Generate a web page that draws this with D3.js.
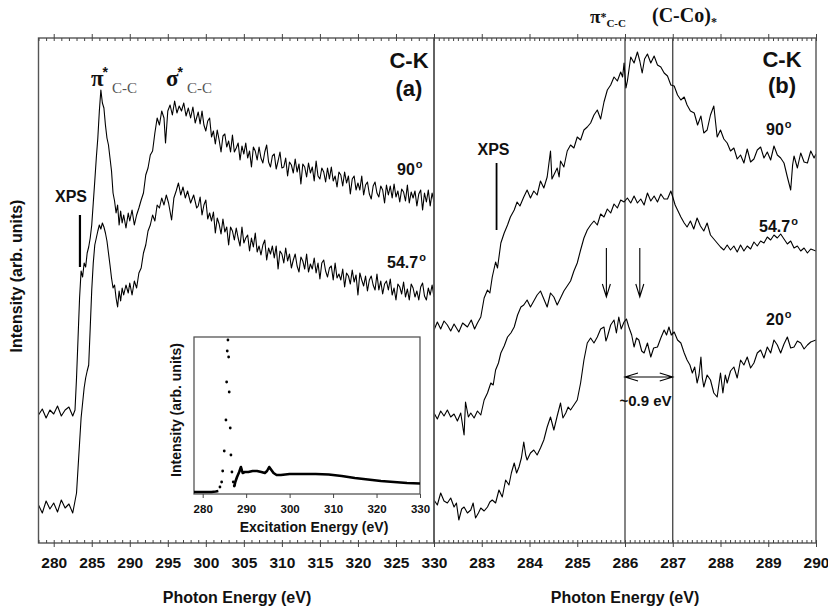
<!DOCTYPE html>
<html>
<head>
<meta charset="utf-8">
<script src="https://cdn.jsdelivr.net/npm/d3@7"></script>
<style>
  body { margin: 0; background: #fff; }
  svg { display: block; }
  text { font-family: Arial, "Liberation Sans", sans-serif; font-weight: bold; fill: #111; }
  .serif { font-family: "Times New Roman", "Liberation Serif", serif; }
</style>
</head>
<body>
<svg id="chart" width="828" height="606"></svg>
<script>
// ---- data: [photon energy (eV), intensity (arb. units)] ----
// panel (a), wide scan
const a90 = [[278.0,128],[278.5,134],[279.0,125],[279.5,133],[280.0,129],[280.5,137],[281.0,127],[281.5,133],[282.0,136],[282.5,127],[282.8,133],[283.0,165],[283.2,205],[283.4,245],[283.6,272],[283.8,266],[284.0,280],[284.2,276],[284.4,290],[284.6,296],[284.8,305],[285.0,318],[285.2,340],[285.4,362],[285.6,385],[285.8,405],[286.0,432],[286.2,453],[286.4,440],[286.6,435],[286.8,418],[287.0,405],[287.2,398],[287.4,385],[287.6,372],[287.8,350],[288.0,342],[288.2,330],[288.4,338],[288.6,318],[288.8,332],[289.0,320],[289.2,328],[289.5,315],[289.8,330],[290.0,322],[290.3,333],[290.6,318],[290.9,328],[291.2,335],[291.5,343],[291.8,350],[292.1,368],[292.4,375],[292.7,388],[293.0,392],[293.3,410],[293.6,425],[293.9,418],[294.2,432],[294.5,425],[294.7,400],[295.0,432],[295.3,438],[295.6,428],[295.9,442],[296.2,430],[296.5,437],[296.8,432],[297.1,440],[297.4,427],[297.7,435],[298.0,425],[298.3,436],[298.6,420],
  [299.0,431],[299.25,419],[299.5,432],[299.75,418],[300.0,412],[300.25,422],[300.5,425],[300.75,406],[301.0,412],[301.25,399],[301.5,413],[301.75,403],[302.0,391],[302.25,407],[302.5,409],[302.75,396],[303.0,402],[303.25,391],[303.5,408],[303.75,391],[304.0,395],[304.25,400],[304.5,383],[304.75,397],[305.0,389],[305.25,400],[305.5,385],[305.75,392],[306.0,376],[306.25,396],[306.5,392],[306.75,383],[307.0,396],[307.25,385],[307.5,380],[307.75,391],[308.0,398],[308.25,381],[308.5,376],[308.75,387],[309.0,389],[309.25,374],[309.5,382],[309.75,391],[310.0,375],[310.25,376],[310.5,385],[310.75,367],[311.0,381],[311.25,378],[311.5,370],[311.75,384],[312.0,371],[312.25,379],[312.5,359],[312.75,379],[313.0,376],[313.25,366],[313.5,380],[313.75,370],[314.0,376],[314.25,362],[314.5,382],[314.75,367],[315.0,364],[315.25,375],[315.5,371],[315.75,361],[316.0,375],[316.25,364],[316.5,376],[316.75,362],[317.0,367],[317.25,356],[317.5,371],[317.75,368],[318.0,357],[318.25,371],[318.5,360],[318.75,367],[319.0,349],[319.25,364],[319.5,367],[319.75,353],[320.0,360],[320.25,353],[320.5,367],[320.75,348],[321.0,358],[321.25,361],[321.5,349],[321.75,344],[322.0,357],[322.25,361],[322.5,350],[322.75,346],[323.0,357],[323.25,353],[323.5,340],[323.75,358],[324.0,348],[324.25,357],[324.5,345],[324.75,359],[325.0,346],[325.25,352],[325.5,341],[325.75,354],[326.0,351],[326.25,342],[326.5,358],[326.75,340],[327.0,351],[327.25,345],[327.5,352],[327.75,337],[328.0,349],[328.25,353],[328.5,333],[328.75,350],[329.0,341],[329.25,353],[329.5,337],[329.75,350],[330.0,341]];
const a547 = [[278.0,38],[278.5,30],[279.0,42],[279.5,34],[280.0,40],[280.5,31],[281.0,43],[281.5,35],[282.0,39],[282.5,30],[282.8,42],[283.0,50],[283.2,75],[283.4,100],[283.6,125],[283.8,140],[284.0,155],[284.2,165],[284.4,172],[284.6,178],[284.8,215],[285.0,253],[285.2,280],[285.4,298],[285.6,305],[285.8,312],[286.0,318],[286.2,314],[286.4,320],[286.6,316],[286.8,310],[287.0,302],[287.2,290],[287.4,278],[287.6,265],[287.8,255],[288.0,258],[288.2,245],[288.4,236],[288.6,252],[288.8,242],[289.0,255],[289.2,248],[289.5,258],[289.8,250],[290.0,260],[290.3,248],[290.6,262],[290.9,255],[291.2,270],[291.5,275],[291.8,290],[292.1,298],[292.4,312],[292.7,318],[293.0,328],[293.3,322],[293.6,338],[293.9,335],[294.2,345],[294.5,338],[294.8,348],[295.1,340],[295.5,323],[295.8,345],[296.1,352],[296.4,360],[296.7,348],[297.0,356],[297.3,345],[297.6,352],[298.0,340],[298.4,348],[298.8,335],
  [299.0,337],[299.25,346],[299.5,328],[299.75,338],[300.0,343],[300.25,324],[300.5,330],[300.75,322],[301.0,331],[301.25,310],[301.5,325],[301.75,319],[302.0,309],[302.25,324],[302.5,311],[302.75,316],[303.0,298],[303.25,316],[303.5,312],[303.75,303],[304.0,315],[304.25,305],[304.5,297],[304.75,316],[305.0,300],[305.25,305],[305.5,308],[305.75,292],[306.0,305],[306.25,296],[306.5,310],[306.75,291],[307.0,297],[307.25,288],[307.5,298],[307.75,303],[308.0,283],[308.25,295],[308.5,289],[308.75,297],[309.0,285],[309.25,297],[309.5,274],[309.75,292],[310.0,289],[310.25,280],[310.5,295],[310.75,282],[311.0,289],[311.25,275],[311.5,283],[311.75,289],[312.0,277],[312.25,271],[312.5,286],[312.75,282],[313.0,274],[313.25,289],[313.5,271],[313.75,279],[314.0,274],[314.25,285],[314.5,270],[314.75,280],[315.0,264],[315.25,280],[315.5,283],[315.75,272],[316.0,266],[316.25,275],[316.5,277],[316.75,263],[317.0,280],[317.25,265],[317.5,269],[317.75,263],[318.0,274],[318.25,256],[318.5,270],[318.75,267],[319.0,259],[319.25,273],[319.5,261],[319.75,268],[320.0,248],[320.25,270],[320.5,263],[320.75,257],[321.0,267],[321.25,252],[321.5,263],[321.75,267],[322.0,258],[322.25,253],[322.5,269],[322.75,253],[323.0,262],[323.25,249],[323.5,259],[323.75,262],[324.0,253],[324.25,264],[324.5,248],[324.75,255],[325.0,243],[325.25,259],[325.5,256],[325.75,249],[326.0,261],[326.25,246],[326.5,254],[326.75,243],[327.0,259],[327.25,255],[327.5,246],[327.75,252],[328.0,243],[328.25,256],[328.5,260],[328.75,247],[329.0,243],[329.25,255],[329.5,248],[329.75,258],[330.0,246]];

// panel (b), edge region
const b90 = [[282.0,213],[282.07,221],[282.14,214],[282.21,222],[282.28,218],[282.35,212],[282.42,219],[282.52,211],[282.6,220],[282.7,216],[282.78,223],[282.85,214],[282.91,220],[282.98,226],[283.05,245],[283.12,253],[283.17,250],[283.22,266],[283.29,281],[283.33,275],[283.4,300],[283.47,310],[283.54,318],[283.6,326],[283.68,333],[283.74,341],[283.8,337],[283.88,346],[283.95,353],[284.02,345],[284.09,352],[284.16,348],[284.23,362],[284.3,355],[284.37,366],[284.44,392],[284.47,364],[284.51,368],[284.58,375],[284.62,366],[284.65,382],[284.72,376],[284.79,392],[284.86,398],[284.93,395],[285.0,406],[285.07,403],[285.14,413],[285.21,416],[285.28,420],[285.35,428],[285.42,433],[285.49,424],[285.56,441],[285.63,453],[285.7,458],[285.77,466],[285.84,462],[285.91,471],[285.95,466],[285.98,480],[286.02,455],[286.05,462],[286.12,486],[286.19,480],[286.26,491],[286.31,482],[286.36,470],[286.41,484],[286.47,489],[286.54,480],[286.61,487],[286.68,478],[286.75,476],[286.82,470],[286.89,467],[286.96,458],[287.03,457],[287.1,448],[287.17,443],[287.24,446],[287.3,438],[287.37,432],[287.45,430],[287.52,418],[287.59,427],[287.65,410],[287.72,413],[287.79,428],[287.86,437],[287.93,406],[288.0,413],[288.07,404],[288.14,400],[288.21,392],[288.28,395],[288.35,384],[288.42,388],[288.49,380],[288.56,394],[288.63,381],[288.7,384],[288.77,393],[288.84,396],[288.91,385],[288.98,391],[289.05,383],[289.12,397],[289.19,388],[289.26,385],[289.33,380],[289.4,366],[289.47,353],[289.51,378],[289.54,387],[289.61,375],[289.68,390],[289.75,381],[289.82,380],[289.89,392],[289.96,385],[290.0,389]];
const b547 = [[282.0,130],[282.07,124],[282.14,132],[282.21,127],[282.28,133],[282.35,126],[282.42,129],[282.49,122],[282.56,130],[282.63,108],[282.66,141],[282.72,126],[282.77,130],[282.84,125],[282.91,132],[282.98,128],[283.05,143],[283.12,150],[283.19,160],[283.24,158],[283.29,173],[283.35,180],[283.4,190],[283.47,197],[283.54,206],[283.61,210],[283.68,216],[283.75,228],[283.82,236],[283.88,238],[283.95,243],[284.02,236],[284.09,242],[284.16,248],[284.23,252],[284.3,244],[284.37,236],[284.44,250],[284.51,246],[284.58,238],[284.65,245],[284.72,252],[284.79,257],[284.86,262],[284.93,272],[285.0,280],[285.07,293],[285.14,305],[285.21,313],[285.28,318],[285.35,322],[285.42,318],[285.49,329],[285.56,326],[285.63,334],[285.7,330],[285.77,339],[285.84,335],[285.91,343],[285.98,341],[286.05,345],[286.12,340],[286.19,347],[286.26,340],[286.33,344],[286.4,338],[286.47,350],[286.54,342],[286.61,347],[286.68,341],[286.75,349],[286.82,344],[286.89,344],[286.96,352],[287.0,346],[287.05,338],[287.1,333],[287.17,326],[287.24,320],[287.3,316],[287.37,322],[287.44,314],[287.51,325],[287.58,317],[287.65,312],[287.72,320],[287.79,308],[287.86,304],[287.93,300],[288.0,296],[288.07,293],[288.14,298],[288.21,293],[288.28,297],[288.35,291],[288.42,298],[288.49,292],[288.56,297],[288.63,294],[288.7,301],[288.77,297],[288.84,302],[288.91,300],[288.98,306],[289.05,303],[289.12,308],[289.19,305],[289.26,309],[289.33,304],[289.4,299],[289.47,302],[289.54,295],[289.61,297],[289.68,292],[289.75,295],[289.82,290],[289.89,294],[290.0,292]];
const b20 = [[282.0,43],[282.07,38],[282.14,50],[282.21,42],[282.28,40],[282.35,45],[282.42,36],[282.47,40],[282.52,23],[282.58,34],[282.63,36],[282.7,30],[282.77,33],[282.82,40],[282.87,25],[282.93,30],[282.98,35],[283.05,32],[283.12,36],[283.17,41],[283.22,43],[283.29,40],[283.36,53],[283.43,46],[283.5,63],[283.57,58],[283.62,70],[283.68,80],[283.73,70],[283.78,76],[283.83,85],[283.88,101],[283.92,88],[283.95,83],[284.02,90],[284.09,93],[284.16,88],[284.23,95],[284.3,103],[284.37,116],[284.44,126],[284.51,113],[284.58,127],[284.65,140],[284.7,125],[284.76,130],[284.81,136],[284.86,133],[284.93,138],[285.0,143],[285.07,160],[285.14,183],[285.21,200],[285.28,205],[285.35,200],[285.42,206],[285.49,214],[285.56,216],[285.6,202],[285.63,206],[285.7,218],[285.77,223],[285.82,210],[285.87,226],[285.92,214],[285.98,221],[286.03,224],[286.08,216],[286.14,208],[286.19,196],[286.24,205],[286.29,203],[286.35,192],[286.4,190],[286.47,200],[286.54,186],[286.6,195],[286.68,196],[286.75,205],[286.82,213],[286.87,208],[286.92,216],[286.97,208],[287.03,211],[287.1,203],[287.17,200],[287.24,190],[287.3,183],[287.36,178],[287.41,170],[287.46,176],[287.51,160],[287.55,168],[287.59,186],[287.62,165],[287.65,156],[287.72,168],[287.79,163],[287.86,150],[287.93,146],[288.0,170],[288.05,150],[288.1,168],[288.14,160],[288.21,172],[288.28,176],[288.35,165],[288.42,183],[288.49,178],[288.56,186],[288.63,175],[288.7,180],[288.77,190],[288.84,193],[288.91,185],[288.98,196],[289.05,190],[289.12,203],[289.19,198],[289.26,190],[289.33,199],[289.4,206],[289.47,195],[289.54,196],[289.61,202],[289.68,200],[289.75,194],[289.82,198],[289.89,201],[290.0,203]];

// inset: dense part drawn as a line, sparse points around the pi* peak as dots
const insetLine1 = [[278,2],[280,2],[282,2],[283,2.5],[283.6,3]];
const insetDots = [[283.97,7],[284.36,12],[284.6,23],[284.96,43],[285.35,74],[285.51,112],[285.65,143],[285.81,154],[285.97,137],[286.1,102],[286.34,66],[286.5,39],[286.73,22],[287.03,12],[287.26,8]];
const insetLine2 = [[287.3,8],[287.5,12],[287.9,17],[288.4,22],[288.8,27],[289.2,21],[289.7,22],[290.5,22],[291.5,23],[292.5,23],[293.5,22],[294.3,21],[294.8,23],[295.3,27],[295.8,24],[296.3,21],[297.0,19],[298.0,19],[300,20],[303,20],[306,20],[309,19.5],[312,18],[315,16],[318,14.5],[321,13],[324,12],[327,11],[330,10.5]];

// tick values
const aMajor = d3.range(280, 331, 5);
const aMinor = d3.range(278, 331, 1);
const bMajor = d3.range(282, 291, 1);
const bMinor = d3.range(0, 81).map(i => 282 + i / 10);
const insetMajor = d3.range(280, 331, 10);

// annotation positions (eV)
const xpsA = 283.45, xpsB = 283.31;
const refLines = [286, 287];
const arrowsB = [285.61, 286.31];

// ---- layout ----
const svg = d3.select('#chart');
const yTop = 38, yBot = 543;
const xa = d3.scaleLinear().domain([278, 330]).range([38.5, 434]);
const xb = d3.scaleLinear().domain([282, 290]).range([434, 816]);
const y = d3.scaleLinear().domain([0, 505]).range([yBot, yTop]);

const defs = svg.append('defs');
defs.append('clipPath').attr('id', 'clipA').append('rect')
  .attr('x', 38.5).attr('y', yTop).attr('width', 434 - 38.5).attr('height', yBot - yTop);
defs.append('clipPath').attr('id', 'clipB').append('rect')
  .attr('x', 434).attr('y', yTop).attr('width', 816 - 434).attr('height', yBot - yTop);

function drawLine(g, data, xs, ys, w) {
  g.append('path').datum(data)
    .attr('fill', 'none').attr('stroke', '#000').attr('stroke-width', w || 1.1)
    .attr('stroke-linejoin', 'round')
    .attr('d', d3.line().x(d => xs(d[0])).y(d => ys(d[1])));
}

function xAxes(scale, majors, minors, fmt) {
  const styleAx = g => {
    g.select('.domain').remove();
    g.selectAll('line').attr('stroke', '#444');
    g.attr('font-size', 15.5).attr('font-family', 'Arial, "Liberation Sans", sans-serif');
  };
  svg.append('g').attr('transform', `translate(0,${yBot})`)
    .call(d3.axisBottom(scale).tickValues(majors).tickSize(4).tickPadding(10).tickFormat(fmt))
    .call(styleAx);
  svg.append('g').attr('transform', `translate(0,${yBot})`)
    .call(d3.axisBottom(scale).tickValues(minors).tickSize(-3).tickFormat(''))
    .call(styleAx);
  svg.append('g').attr('transform', `translate(0,${yTop})`)
    .call(d3.axisTop(scale).tickValues(majors).tickSize(4).tickFormat(''))
    .call(styleAx);
  svg.append('g').attr('transform', `translate(0,${yTop})`)
    .call(d3.axisTop(scale).tickValues(minors).tickSize(-3).tickFormat(''))
    .call(styleAx);
}

// ---- panel (a) ----
const gA = svg.append('g').attr('clip-path', 'url(#clipA)');
drawLine(gA, a90, xa, y);
drawLine(gA, a547, xa, y);

// ---- panel (b) ----
const gB = svg.append('g').attr('clip-path', 'url(#clipB)');
gB.selectAll('line.ref').data(refLines).join('line')
  .attr('x1', d => xb(d)).attr('x2', d => xb(d))
  .attr('y1', yTop).attr('y2', yBot)
  .attr('stroke', '#333').attr('stroke-width', 1.2);
drawLine(gB, b90, xb, y);
drawLine(gB, b547, xb, y);
drawLine(gB, b20, xb, y);

// frames
svg.append('rect').attr('x', 38.5).attr('y', yTop).attr('width', 434 - 38.5).attr('height', yBot - yTop)
  .attr('fill', 'none').attr('stroke', '#555').attr('stroke-width', 1.4);
svg.append('rect').attr('x', 434).attr('y', yTop).attr('width', 816 - 434).attr('height', yBot - yTop)
  .attr('fill', 'none').attr('stroke', '#555').attr('stroke-width', 1.4);

xAxes(xa, aMajor, aMinor, d3.format('d'));
xAxes(xb, bMajor, bMinor, d => d === 282 ? '' : d);

// ---- inset ----
const xi = d3.scaleLinear().domain([278, 330]).range([194, 420]);
const yi = d3.scaleLinear().domain([0, 157]).range([494, 337]);
svg.append('rect').attr('x', 194).attr('y', 337).attr('width', 420 - 194).attr('height', 494 - 337)
  .attr('fill', '#fff').attr('stroke', '#555').attr('stroke-width', 1.3);
const gI = svg.append('g');
drawLine(gI, insetLine1, xi, yi, 2.6);
drawLine(gI, insetLine2, xi, yi, 2.6);
gI.selectAll('circle').data(insetDots).join('circle')
  .attr('cx', d => xi(d[0])).attr('cy', d => yi(d[1])).attr('r', 1.4).attr('fill', '#000');
svg.append('g').attr('transform', 'translate(0,494)')
  .call(d3.axisBottom(xi).tickValues(insetMajor).tickSize(4).tickPadding(7).tickFormat(d3.format('d')))
  .call(g => {
    g.select('.domain').remove();
    g.selectAll('line').attr('stroke', '#444');
    g.attr('font-size', 11.5).attr('font-family', 'Arial, "Liberation Sans", sans-serif');
  });
svg.append('text').attr('x', 314).attr('y', 532).attr('text-anchor', 'middle')
  .attr('font-size', 14).text('Excitation Energy (eV)');
svg.append('text').attr('transform', 'translate(181,410) rotate(-90)').attr('text-anchor', 'middle')
  .attr('font-size', 14).text('Intensity (arb. units)');

// ---- axis titles ----
svg.append('text').attr('x', 237).attr('y', 603).attr('text-anchor', 'middle')
  .attr('font-size', 16).text('Photon Energy (eV)');
svg.append('text').attr('x', 625).attr('y', 603).attr('text-anchor', 'middle')
  .attr('font-size', 16).text('Photon Energy (eV)');
svg.append('text').attr('transform', 'translate(22,276) rotate(-90)').attr('text-anchor', 'middle')
  .attr('font-size', 16).text('Intensity (arb. units)');

// ---- labels ----
function label(x, yy, txt, size, anchor) {
  return svg.append('text').attr('x', x).attr('y', yy).attr('font-size', size)
    .attr('text-anchor', anchor || 'start').text(txt);
}
function degLabel(x, yy, num) {
  const t = svg.append('text').attr('x', x).attr('y', yy).attr('font-size', 16);
  t.append('tspan').text(num);
  t.append('tspan').attr('font-size', 11).attr('dy', -7).attr('dx', 1).text('o');
}
label(409, 68, 'C-K', 22, 'middle');
label(409, 96, '(a)', 22, 'middle');
label(782, 67, 'C-K', 22, 'middle');
label(782, 93, '(b)', 22, 'middle');
degLabel(397, 175, '90');
degLabel(387, 268, '54.7');
degLabel(766, 135, '90');
degLabel(759, 232, '54.7');
degLabel(766, 325, '20');
label(71, 202, 'XPS', 16, 'middle');
label(493.5, 155, 'XPS', 16, 'middle');
label(645.5, 406, '~0.9 eV', 15, 'middle');

// pi* and sigma* labels, panel (a): symbol, superscript star, gray subscript
function starLabel(x, yy, sym) {
  const t = svg.append('text').attr('x', x).attr('y', yy);
  t.append('tspan').attr('class', 'serif').attr('font-size', 23).text(sym);
  t.append('tspan').attr('font-size', 14).attr('dx', -1).attr('dy', -9).text('*');
  t.append('tspan').attr('class', 'serif').attr('font-size', 15).attr('dx', 4).attr('dy', 16)
    .style('font-weight', 'normal').style('fill', '#555').text('C-C');
}
starLabel(91, 86, 'π');
starLabel(166, 86, 'σ');

// panel (b) top labels
{
  const t = svg.append('text').attr('class', 'serif').attr('x', 590).attr('y', 23);
  t.append('tspan').attr('font-size', 19).text('π');
  t.append('tspan').attr('font-size', 12).attr('dy', -2).text('*');
  t.append('tspan').attr('font-size', 11).attr('dy', 6).text('C-C');
  const u = svg.append('text').attr('class', 'serif').attr('x', 652).attr('y', 22);
  u.append('tspan').attr('font-size', 20).text('(C-Co)');
  u.append('tspan').attr('font-size', 12).attr('dy', 4).text('*');
}

// XPS markers
svg.append('line').attr('x1', xa(xpsA)).attr('x2', xa(xpsA)).attr('y1', y(328)).attr('y2', y(276))
  .attr('stroke', '#000').attr('stroke-width', 2.2);
svg.append('line').attr('x1', xb(xpsB)).attr('x2', xb(xpsB)).attr('y1', y(380)).attr('y2', y(313))
  .attr('stroke', '#000').attr('stroke-width', 1.8);

// down arrows and the ~0.9 eV span
const arr = svg.append('g').attr('fill', 'none').attr('stroke', '#000').attr('stroke-width', 1.1);
arrowsB.forEach(e => {
  const x = xb(e), y1 = y(295), y2 = y(246);
  arr.append('path').attr('d', `M${x},${y1}V${y2}M${x - 4},${y2 - 13}L${x},${y2}L${x + 4},${y2 - 13}`);
});
{
  const x1 = xb(refLines[0]), x2 = xb(refLines[1]), yy = y(166);
  arr.append('path').attr('d',
    `M${x1},${yy}H${x2}M${x1 + 13},${yy - 4}L${x1},${yy}L${x1 + 13},${yy + 4}M${x2 - 13},${yy - 4}L${x2},${yy}L${x2 - 13},${yy + 4}`);
}
</script>
</body>
</html>
